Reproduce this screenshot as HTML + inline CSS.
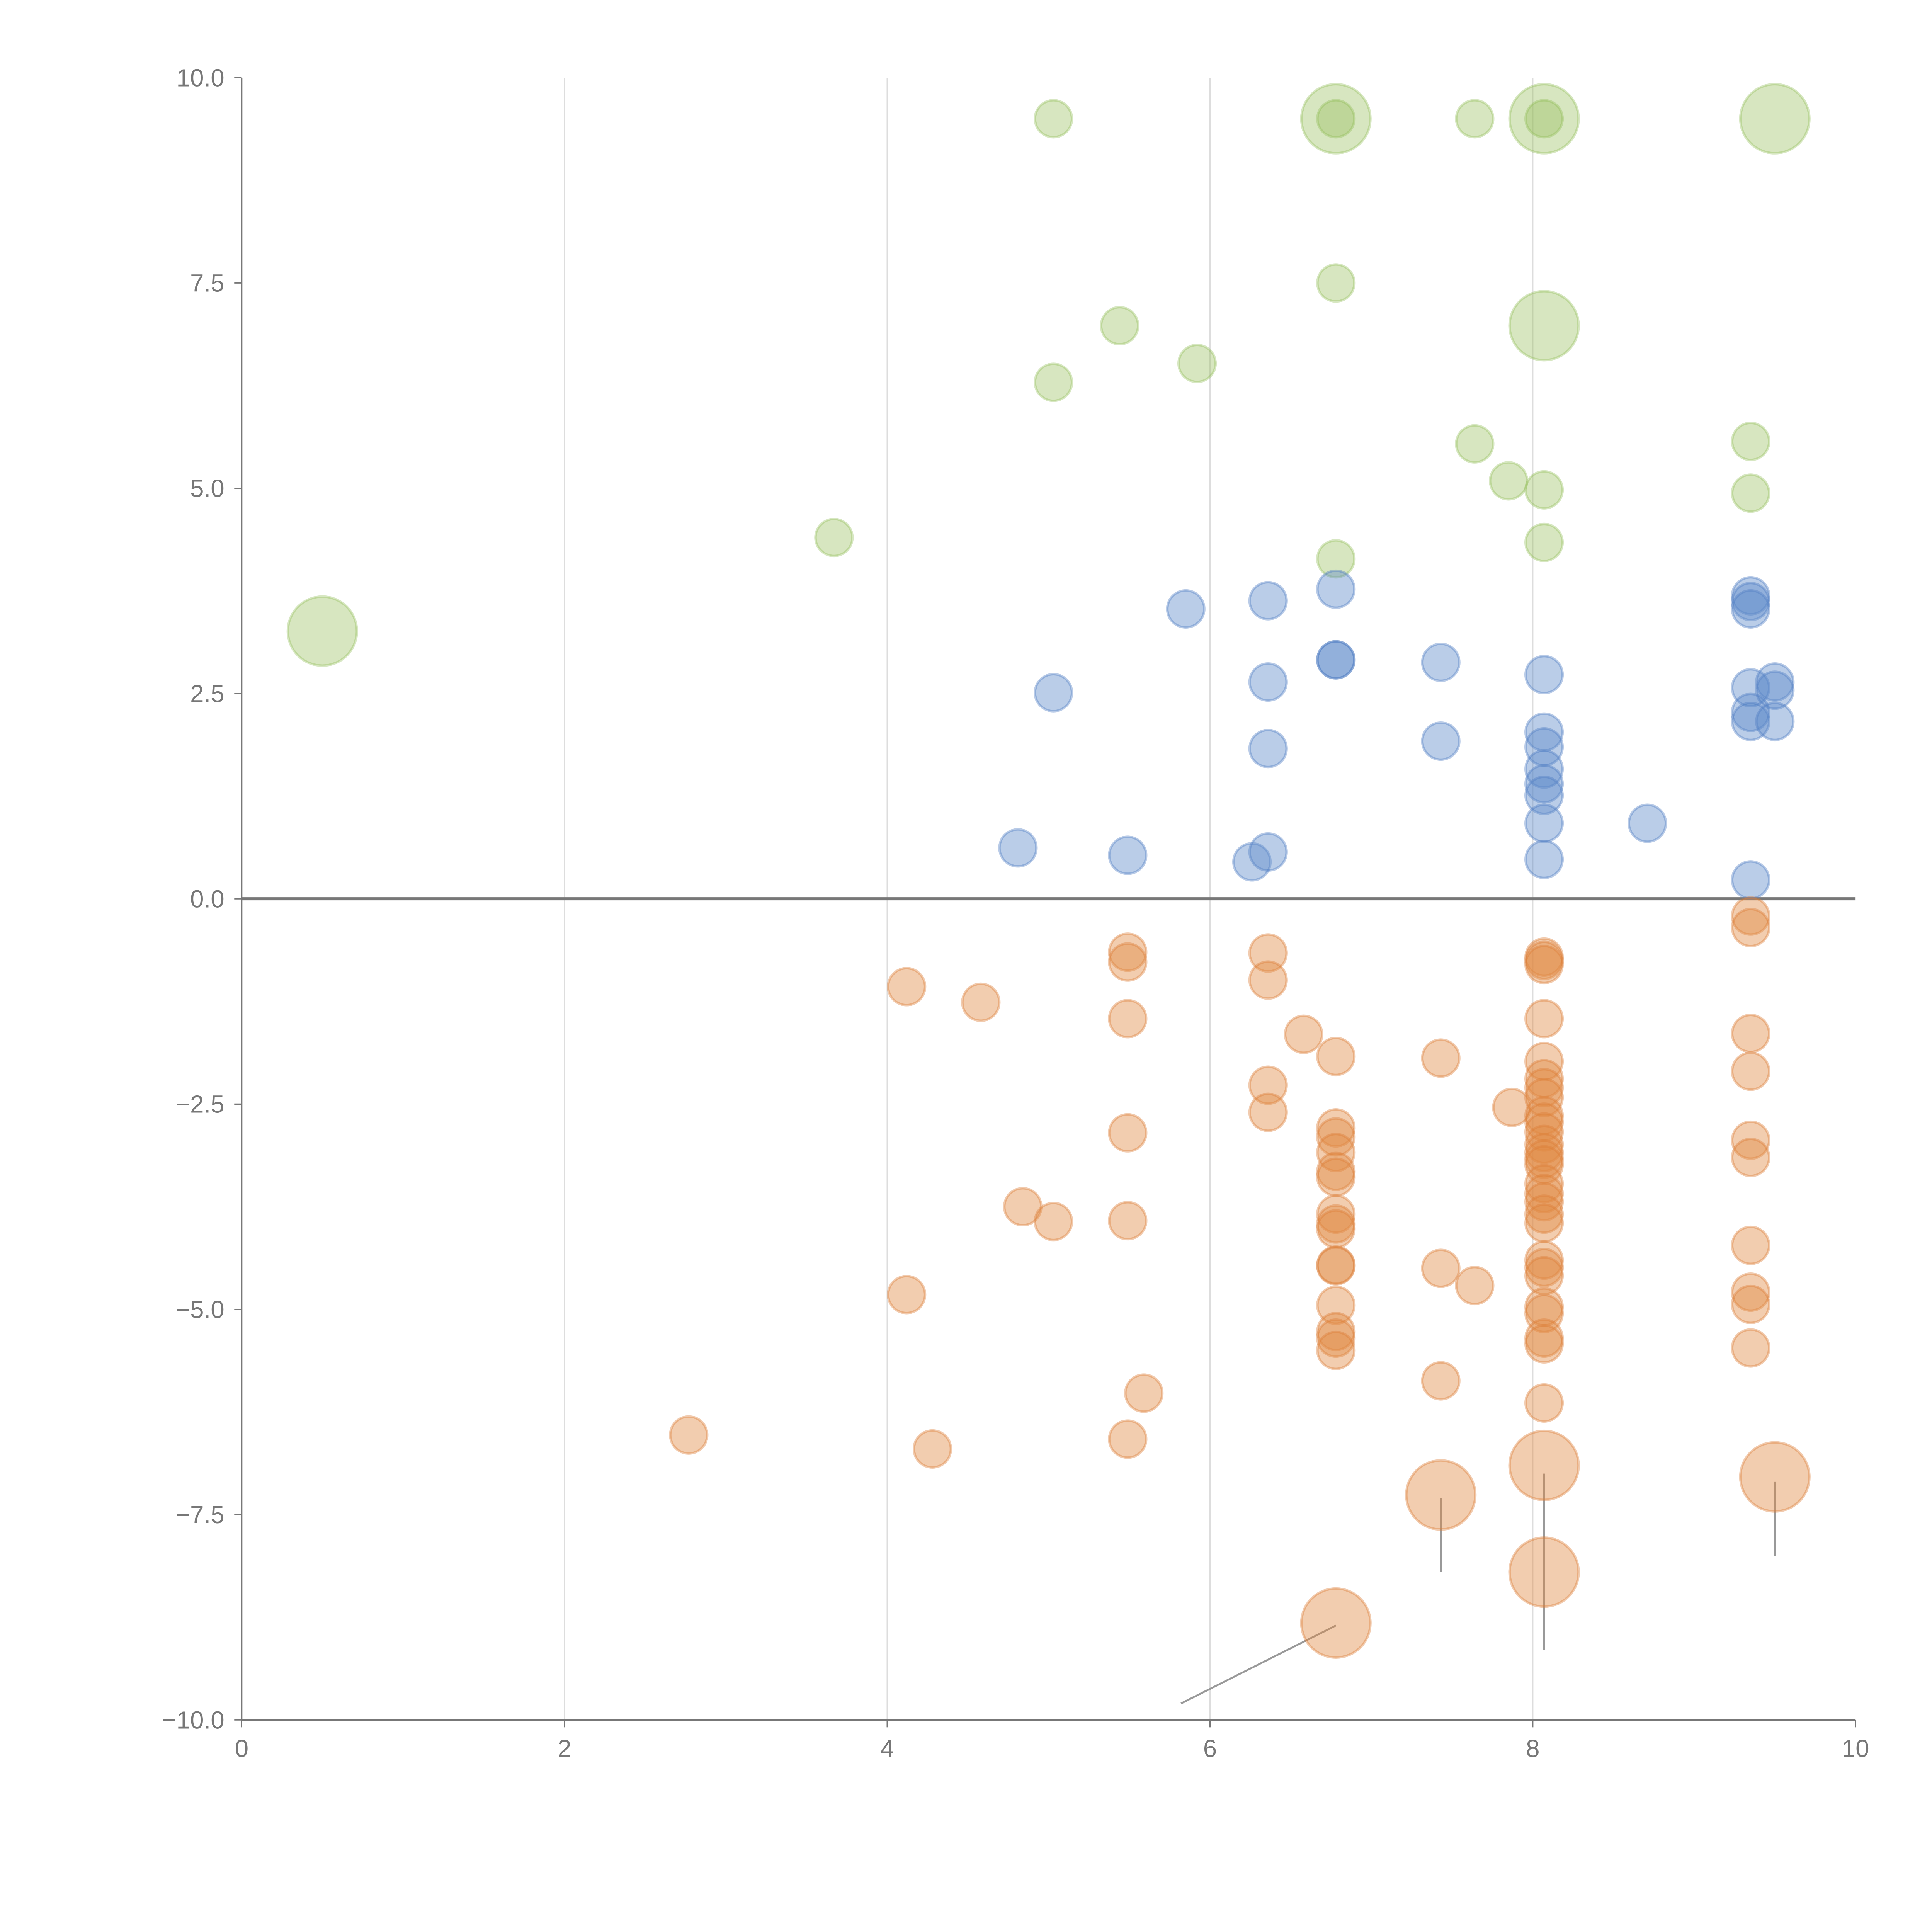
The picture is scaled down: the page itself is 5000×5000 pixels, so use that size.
<!DOCTYPE html>
<html><head><meta charset="utf-8"><style>
html,body{margin:0;padding:0;background:#fff;}
svg{display:block;}
text{font-family:"Liberation Sans",sans-serif;fill:#777;}
</style></head><body>
<svg id="chart" width="5000" height="5000" viewBox="0 0 1567 1567" xmlns="http://www.w3.org/2000/svg">
<g id="grid"></g>
<g id="axes"></g>
<g id="marks"></g>
</svg>
<script>
const xTicks=[0,2,4,6,8,10];
const yTicks=[10,7.5,5,2.5,0,-2.5,-5,-7.5,-10];
const yTickLabels=["10.0","7.5","5.0","2.5","0.0","\u22122.5","\u22125.0","\u22127.5","\u221210.0"];
const greenX=[5.03,6.78,6.78,7.64,8.07,8.07,9.50,6.78,5.44,8.07,5.92,5.03,7.64,7.85,8.07,9.35,9.35,8.07,6.78,3.67,0.50];
const greenY=[9.5,9.5,9.5,9.5,9.5,9.5,9.5,7.5,6.98,6.98,6.52,6.29,5.54,5.09,4.98,5.57,4.94,4.34,4.14,4.40,3.26];
const greenS=[1,2,1,1,2,1,2,1,1,2,1,1,1,1,1,1,1,1,1,1,2];
const blueX=[6.36,5.85,6.78,6.78,6.78,6.36,5.03,7.43,6.36,7.43,8.07,8.07,8.07,8.07,8.07,8.07,8.07,8.07,8.71,9.35,9.35,9.35,9.35,9.35,9.35,9.50,9.50,9.50,9.35,4.81,5.49,6.26,6.36];
const blueY=[3.63,3.53,3.77,2.91,2.91,2.64,2.51,2.88,1.83,1.92,2.73,2.03,1.85,1.58,1.40,1.26,0.92,0.48,0.92,3.69,3.62,3.53,2.57,2.27,2.16,2.64,2.54,2.16,0.23,0.62,0.53,0.45,0.57];
const orangeX=[5.49,5.49,5.49,5.49,5.49,5.49,6.36,6.36,6.36,6.36,4.12,4.12,4.58,6.58,
6.78,6.78,6.78,6.78,6.78,6.78,6.78,6.78,6.78,6.78,6.78,6.78,6.78,6.78,6.78,
7.43,7.43,7.43,7.87,
8.07,8.07,8.07,8.07,8.07,8.07,8.07,8.07,8.07,8.07,8.07,8.07,8.07,8.07,8.07,8.07,8.07,8.07,8.07,8.07,8.07,8.07,8.07,8.07,8.07,8.07,8.07,8.07,
9.35,9.35,9.35,9.35,9.35,9.35,9.35,9.35,9.35,9.35,
4.84,5.03,2.77,4.28,5.59,7.64,
7.43,8.07,9.50,8.07,6.78];
const orangeY=[-0.65,-0.77,-1.46,-2.85,-3.92,-6.58,-0.66,-0.99,-2.27,-2.60,-1.07,-4.82,-1.26,-1.65,
-1.92,-2.79,-2.90,-3.09,-3.32,-3.39,-3.84,-3.96,-4.02,-4.46,-4.47,-4.95,-5.27,-5.35,-5.50,
-1.94,-4.50,-5.87,-2.54,
-0.71,-0.75,-0.80,-1.46,-1.98,-2.19,-2.30,-2.42,-2.64,-2.72,-2.84,-2.99,-3.09,-3.17,-3.24,-3.47,-3.59,-3.69,-3.84,-3.95,-4.40,-4.49,-4.59,-4.97,-5.05,-5.35,-5.42,-6.14,
-0.21,-0.35,-1.64,-2.10,-2.94,-3.15,-4.22,-4.79,-4.94,-5.47,
-3.75,-3.93,-6.53,-6.70,-6.02,-4.71,
-7.26,-6.90,-7.04,-8.20,-8.82];
const orangeS=orangeX.map((v,i)=>i>=orangeX.length-5?2:1);

const X0=196,X1=1505,Y0=1395,Y1=63;
const xs=v=>X0+(v-0)/(10-0)*(X1-X0);
const ys=v=>Y0-(v+10)/20*(Y0-Y1);
const NS="http://www.w3.org/2000/svg";
function mk(tag,attrs,parent){const e=document.createElementNS(NS,tag);for(const k in attrs)e.setAttribute(k,attrs[k]);parent.appendChild(e);return e;}
const grid=document.getElementById('grid'),axes=document.getElementById('axes'),marks=document.getElementById('marks');

xTicks.forEach(t=>{
  if(t>0&&t<10){const l=mk('line',{x1:xs(t),x2:xs(t),y1:Y1,y2:Y0,stroke:'#ddd','stroke-width':1},grid);
  
  }
  mk('line',{x1:xs(t),x2:xs(t),y1:Y0,y2:Y0+6,stroke:'#777'},axes);
  const tx=mk('text',{x:xs(t),y:Y0+30,'text-anchor':'middle','font-size':20},axes);tx.textContent=t;
  
  
});
yTicks.forEach((t,i)=>{
  mk('line',{x1:X0-6,x2:X0,y1:ys(t),y2:ys(t),stroke:'#777'},axes);
  const tx=mk('text',{x:X0-14,y:ys(t)+7,'text-anchor':'end','font-size':20},axes);tx.textContent=yTickLabels[i];
  
  
});
let a=mk('line',{x1:X0,x2:X0,y1:Y1,y2:Y0,stroke:'#777','stroke-width':1.2},axes);


a=mk('line',{x1:X0,x2:X1,y1:Y0,y2:Y0,stroke:'#777','stroke-width':1.2},axes);


a=mk('line',{x1:X0,x2:X1,y1:ys(0),y2:ys(0),stroke:'#777','stroke-width':2.5},axes);



[[7.43,-7.3,7.43,-8.2],[8.07,-7.0,8.07,-9.15],[9.50,-7.1,9.50,-8.0],[6.78,-8.85,5.82,-9.8]].forEach(s=>{
  const l=mk('line',{x1:xs(s[0]),y1:ys(s[1]),x2:xs(s[2]),y2:ys(s[3]),stroke:'#999','stroke-width':1.5},axes);
  
  
});

function series(X,Y,S,fill,stroke,name){
  X.forEach((x,i)=>{
    const c=mk('circle',{cx:xs(x),cy:ys(Y[i]),r:S[i]===2?28:15,fill:fill,stroke:stroke,'stroke-width':2},marks);
    
    
  });
}
series(greenX,greenY,greenS,'rgba(150,190,90,0.38)','rgba(140,185,80,0.35)','green-bubble');
series(blueX,blueY,blueX.map(()=>1),'rgba(90,135,200,0.42)','rgba(80,125,195,0.4)','blue-bubble');
series(orangeX,orangeY,orangeS,'rgba(225,135,65,0.42)','rgba(220,125,55,0.4)','orange-bubble');
</script>
</body></html>
